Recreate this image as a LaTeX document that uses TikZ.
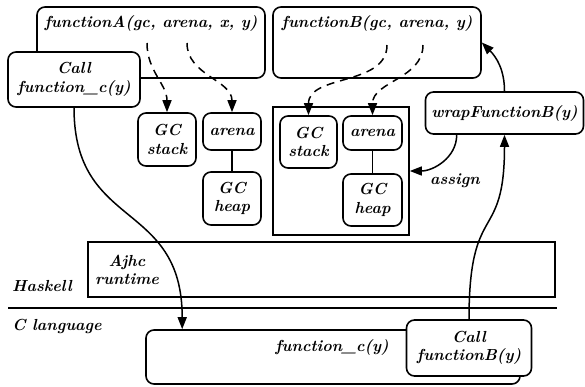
\documentclass[tikz,border=0pt]{standalone}
\usetikzlibrary{arrows.meta}
\begin{document}
\begin{tikzpicture}[x=1pt,y=-1pt]
\tikzstyle{every node}+=[inner sep=0pt, font=\fontsize{16}{18.5}\selectfont\bfseries\itshape, align=center]
\tikzstyle{rbox}=[draw, line width=1.6pt, rounded corners=8pt, fill=white]
\tikzstyle{frame}=[draw, line width=1.6pt]
\tikzstyle{conn}=[line width=1.5pt, -{Triangle[length=12pt,width=9pt]}]
\tikzstyle{dconn}=[conn, dash pattern=on 8pt off 6pt]
\useasboundingbox (0,0) rectangle (585,386);

% Haskell side, function A
\node [rbox, minimum width=228pt, minimum height=71pt] (fA) at (151,42.5) {};
\node [below=9pt] at (fA.north) {functionA(gc, arena, x, y)};
\node [rbox, minimum width=132pt, minimum height=55pt] (callc) at (74,79.5) {Call\\function\_c(y)};
\node [rbox, minimum width=58pt, minimum height=53pt] (gcsA) at (167,139.5) {GC\\stack};
\node [rbox, minimum width=58pt, minimum height=37pt] (arenaA) at (232,131.5) {arena};
\node [rbox, minimum width=58pt, minimum height=53pt] (heapA) at (232,198.5) {GC\\heap};
\draw [line width=1.5pt] (arenaA) -- (heapA);
\coordinate (fAgc) at (147,43);
\coordinate (fAar) at (187,43);
\draw [dconn] (fAgc) to[out=-90,in=90] (gcsA.north);
\draw [dconn] (fAar) to[out=-90,in=90] (arenaA.north);

% function B
\node [rbox, minimum width=208pt, minimum height=71pt] (fB) at (377,42.5) {};
\node [below=9pt] at (fB.north) {functionB(gc, arena, y)};
\node [frame, minimum width=136pt, minimum height=128pt] (rt) at (341,171) {};
\node [rbox, minimum width=57pt, minimum height=52pt] (gcsB) at (308.5,142) {GC\\stack};
\node [rbox, minimum width=59pt, minimum height=34pt] (arenaB) at (372.5,133) {arena};
\node [rbox, minimum width=59pt, minimum height=52pt] (heapB) at (372.5,200) {GC\\heap};
\draw [line width=1.5pt] (arenaB) -- (heapB);
\coordinate (fBgc) at (387,45);
\coordinate (fBar) at (423,45);
\draw [dconn] (fBgc) to[out=-90,in=90] (gcsB.north);
\draw [dconn] (fBar) to[out=-90,in=90] (arenaB.north);

\node [rbox, minimum width=158pt, minimum height=42pt] (wrap) at (504.5,113) {wrapFunctionB(y)};
\draw [conn] ([xshift=32pt]wrap.south west) to[out=-90,in=0] (rt.east);
\node (assign) at (455,181) {assign};
\draw [conn] (wrap.north) to[out=90,in=-45] (fB.east);

% runtime and layers
\node [frame, minimum width=467pt, minimum height=55pt] (ajhc) at (321.5,269.5) {};
\node (ajhctxt) at (127,270) {Ajhc\\runtime};
\node (hs) at (42,286) {Haskell};
\coordinate (sepL) at (8,308);
\coordinate (sepR) at (557,308);
\draw [line width=1.2pt] (sepL) -- (sepR);
\node (clang) at (57,326) {C language};

% C side
\node [rbox, minimum width=374pt, minimum height=54pt] (fc) at (333,357) {};
\node (fctxt) at (332,347) {function\_c(y)};
\node [rbox, minimum width=125pt, minimum height=56pt] (callB) at (469,348) {Call\\functionB(y)};

\draw [conn] (callc.south) .. controls +(0,123) and +(0,-130) .. ([xshift=37pt]fc.north west);
\draw [conn] (callB.north) .. controls +(0,-120) and +(0,110) .. (wrap.south);
\end{tikzpicture}
\end{document}
